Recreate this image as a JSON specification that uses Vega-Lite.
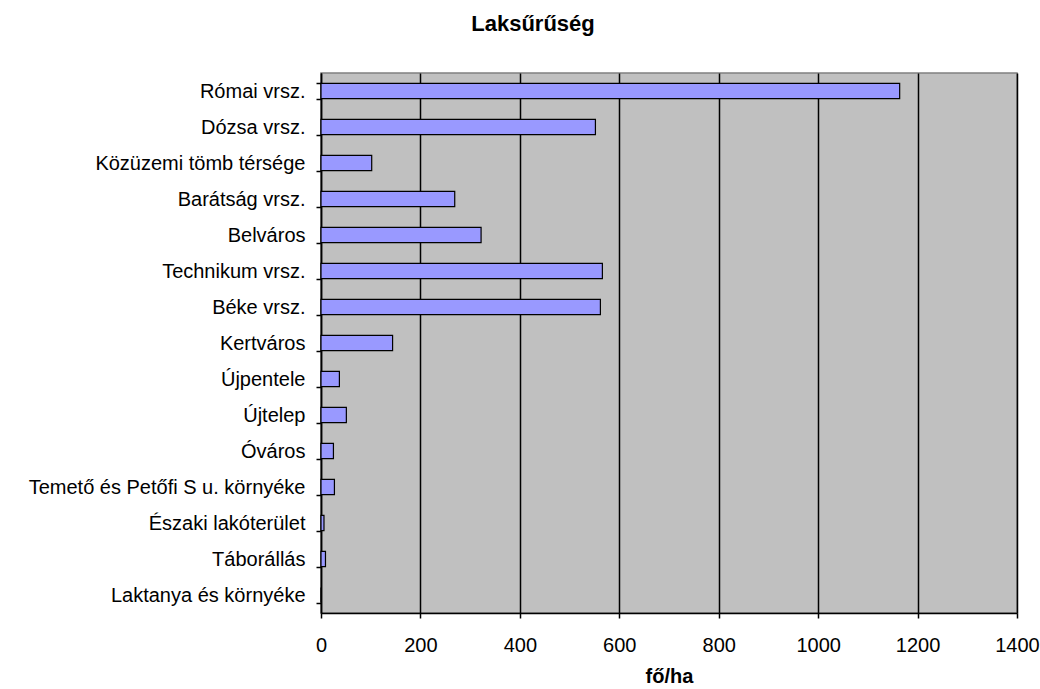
{
  "$schema": "https://vega.github.io/schema/vega-lite/v6.json",
  "autosize": {"type": "none"},
  "padding": {"left": 321, "top": 73, "right": 23, "bottom": 76},
  "width": 696,
  "height": 540,
  "background": "white",
  "title": {
    "text": "Laksűrűség",
    "font": "Liberation Sans",
    "fontSize": 22,
    "fontWeight": "bold",
    "color": "black",
    "anchor": "middle",
    "dx": -136,
    "offset": 27
  },
  "data": {
    "values": [
      {"terulet": "Római vrsz.", "ertek": 1164},
      {"terulet": "Dózsa vrsz.", "ertek": 552},
      {"terulet": "Közüzemi tömb térsége", "ertek": 102},
      {"terulet": "Barátság vrsz.", "ertek": 269},
      {"terulet": "Belváros", "ertek": 322},
      {"terulet": "Technikum vrsz.", "ertek": 566},
      {"terulet": "Béke vrsz.", "ertek": 562},
      {"terulet": "Kertváros", "ertek": 144},
      {"terulet": "Újpentele", "ertek": 37},
      {"terulet": "Újtelep", "ertek": 51},
      {"terulet": "Óváros", "ertek": 25},
      {"terulet": "Temető és Petőfi S u. környéke", "ertek": 27},
      {"terulet": "Északi lakóterület", "ertek": 6},
      {"terulet": "Táborállás", "ertek": 9},
      {"terulet": "Laktanya és környéke", "ertek": 0}
    ]
  },
  "mark": {"type": "bar", "fill": "#9999ff", "stroke": "black", "strokeWidth": 1.2},
  "encoding": {
    "y": {
      "field": "terulet",
      "type": "nominal",
      "sort": null,
      "title": null,
      "scale": {"paddingInner": 0.58, "paddingOuter": 0.29},
      "axis": {
        "tickBand": "extent",
        "domainColor": "black",
        "domainWidth": 1.5,
        "tickColor": "black",
        "tickSize": 5,
        "tickWidth": 1.5,
        "labelPadding": 11,
        "labelLimit": 0,
        "labelFont": "Liberation Sans",
        "labelFontSize": 20,
        "labelColor": "black",
        "grid": false
      }
    },
    "x": {
      "field": "ertek",
      "type": "quantitative",
      "title": "fő/ha",
      "scale": {"domain": [0, 1400], "nice": false},
      "axis": {
        "values": [0, 200, 400, 600, 800, 1000, 1200, 1400],
        "format": "d",
        "labelFlush": false,
        "grid": true,
        "gridColor": "black",
        "gridWidth": 1.5,
        "gridOpacity": 1,
        "domainColor": "black",
        "domainWidth": 1.5,
        "tickColor": "black",
        "tickSize": 5,
        "tickWidth": 1.5,
        "labelPadding": 17,
        "labelFont": "Liberation Sans",
        "labelFontSize": 20,
        "labelColor": "black",
        "titleFont": "Liberation Sans",
        "titleFontSize": 20,
        "titleFontWeight": "bold",
        "titleColor": "black",
        "titlePadding": 11
      }
    }
  },
  "config": {
    "view": {"fill": "#c0c0c0", "stroke": "#808080", "strokeWidth": 1.5}
  }
}
